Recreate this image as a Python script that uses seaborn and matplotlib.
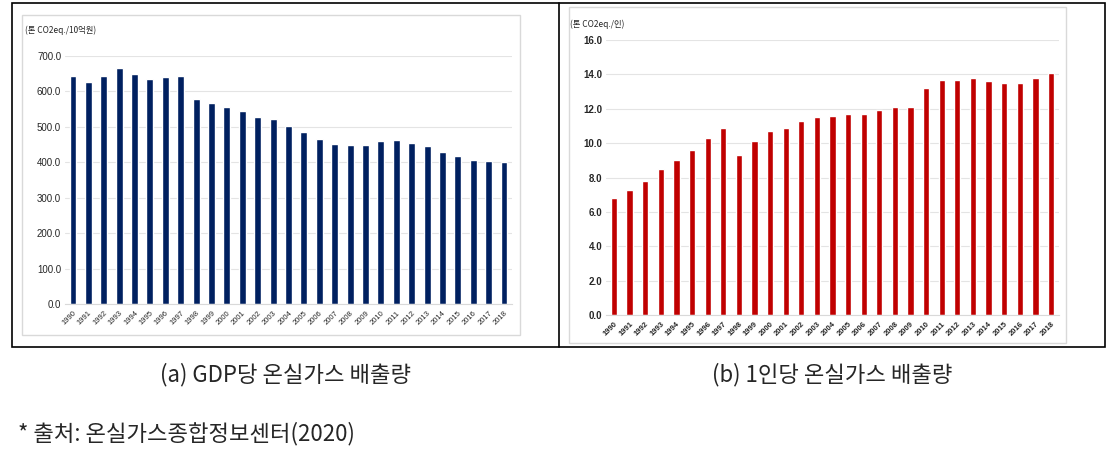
import matplotlib
matplotlib.use("Agg")
import matplotlib.pyplot as plt
from matplotlib.patches import Rectangle
from matplotlib.lines import Line2D
import seaborn as sns
import pandas as pd

# 데이터
years = [str(y) for y in range(1990, 2019)]
per_gdp = [644, 627, 644, 665, 648, 635, 640, 643, 580, 567, 555, 545, 527, 521, 502,
           485, 467, 451, 448, 448, 459, 462, 455, 445, 428, 417, 406, 403, 400]
per_capita = [6.8, 7.3, 7.8, 8.5, 9.0, 9.6, 10.3, 10.9, 9.3, 10.1, 10.7, 10.9, 11.3, 11.5, 11.6,
              11.7, 11.7, 11.9, 12.1, 12.1, 13.2, 13.7, 13.7, 13.8, 13.6, 13.5, 13.5, 13.8, 14.1]
unit_a = "(톤 CO2eq./10억원)"
unit_b = "(톤 CO2eq./인)"
caption_a = "(a) GDP당 온실가스 배출량"
caption_b = "(b) 1인당 온실가스 배출량"
source = "* 출처: 온실가스종합정보센터(2020)"

df = pd.DataFrame({"year": years, "gdp": per_gdp, "cap": per_capita})

sns.set_style("white")
plt.rcParams['font.family'] = ['Noto Sans CJK KR', 'DejaVu Sans']

W, H = 1118, 451
fig = plt.figure(figsize=(W / 100, H / 100), dpi=100)


def px(x0, y0, x1, y1):
    # 픽셀 좌표 -> figure 비율
    return [x0 / W, 1 - y1 / H, (x1 - x0) / W, (y1 - y0) / H]


# 표 테두리
fig.add_artist(Rectangle((12 / W, 1 - 347 / H), (1105 - 12) / W, (347 - 3) / H,
                         transform=fig.transFigure, fill=False, edgecolor='black', lw=1.2))
fig.add_artist(Line2D([559 / W, 559 / W], [1 - 347 / H, 1 - 3 / H],
                      transform=fig.transFigure, color='black', lw=1.2))
# 차트 영역 테두리
for (x0, y0, x1, y1) in [(22, 15, 520, 335), (569, 7, 1066, 343)]:
    fig.add_artist(Rectangle((x0 / W, 1 - y1 / H), (x1 - x0) / W, (y1 - y0) / H,
                             transform=fig.transFigure, fill=False, edgecolor='#D9D9D9', lw=1))


def draw(ax, col, color, ymax, step, width, bold):
    sns.barplot(data=df, x="year", y=col, color=color, width=width, ax=ax, saturation=1)
    ax.set_xlim(-0.5, len(years) - 0.5)
    ax.set_ylim(0, ymax)
    ticks = [i * step for i in range(int(ymax / step) + 1)]
    ax.set_yticks(ticks)
    ax.set_yticklabels([f"{t:.1f}" for t in ticks], fontsize=7,
                       fontweight='bold' if bold else 'normal', family='Liberation Sans')
    ax.set_xticks(range(len(years)))
    ax.set_xticklabels(years, rotation=45, fontsize=5.5, ha='right', rotation_mode='anchor',
                       fontweight='bold' if bold else 'normal', family='Liberation Sans')
    ax.tick_params(axis='y', length=0, pad=3)
    ax.tick_params(axis='x', length=0, pad=4)
    ax.set_xlabel(None)
    ax.set_ylabel(None)
    for s in ax.spines.values():
        s.set_visible(False)
    ax.spines['bottom'].set_visible(True)
    ax.spines['bottom'].set_color('#D9D9D9')
    ax.yaxis.grid(True, color='#E4E4E4', lw=0.8)
    ax.set_axisbelow(True)
    ax.patch.set_alpha(0)


ax1 = fig.add_axes(px(65.3, 56, 511.7, 304))
draw(ax1, "gdp", "#002060", 700, 100, 0.45, False)

ax2 = fig.add_axes(px(606.2, 40, 1058.8, 315))
draw(ax2, "cap", "#C00000", 16, 2, 0.4, True)

fig.text(25 / W, 1 - 30 / H, unit_a, fontsize=6, va='center', ha='left')
fig.text(570 / W, 1 - 24 / H, unit_b, fontsize=6, va='center', ha='left')

fig.text(286 / W, 1 - 375 / H, caption_a, fontsize=16, va='center', ha='center')
fig.text(832 / W, 1 - 375 / H, caption_b, fontsize=16, va='center', ha='center')
fig.text(18 / W, 1 - 434 / H, source, fontsize=16, va='center', ha='left')

fig.savefig("out.png", dpi=100)
